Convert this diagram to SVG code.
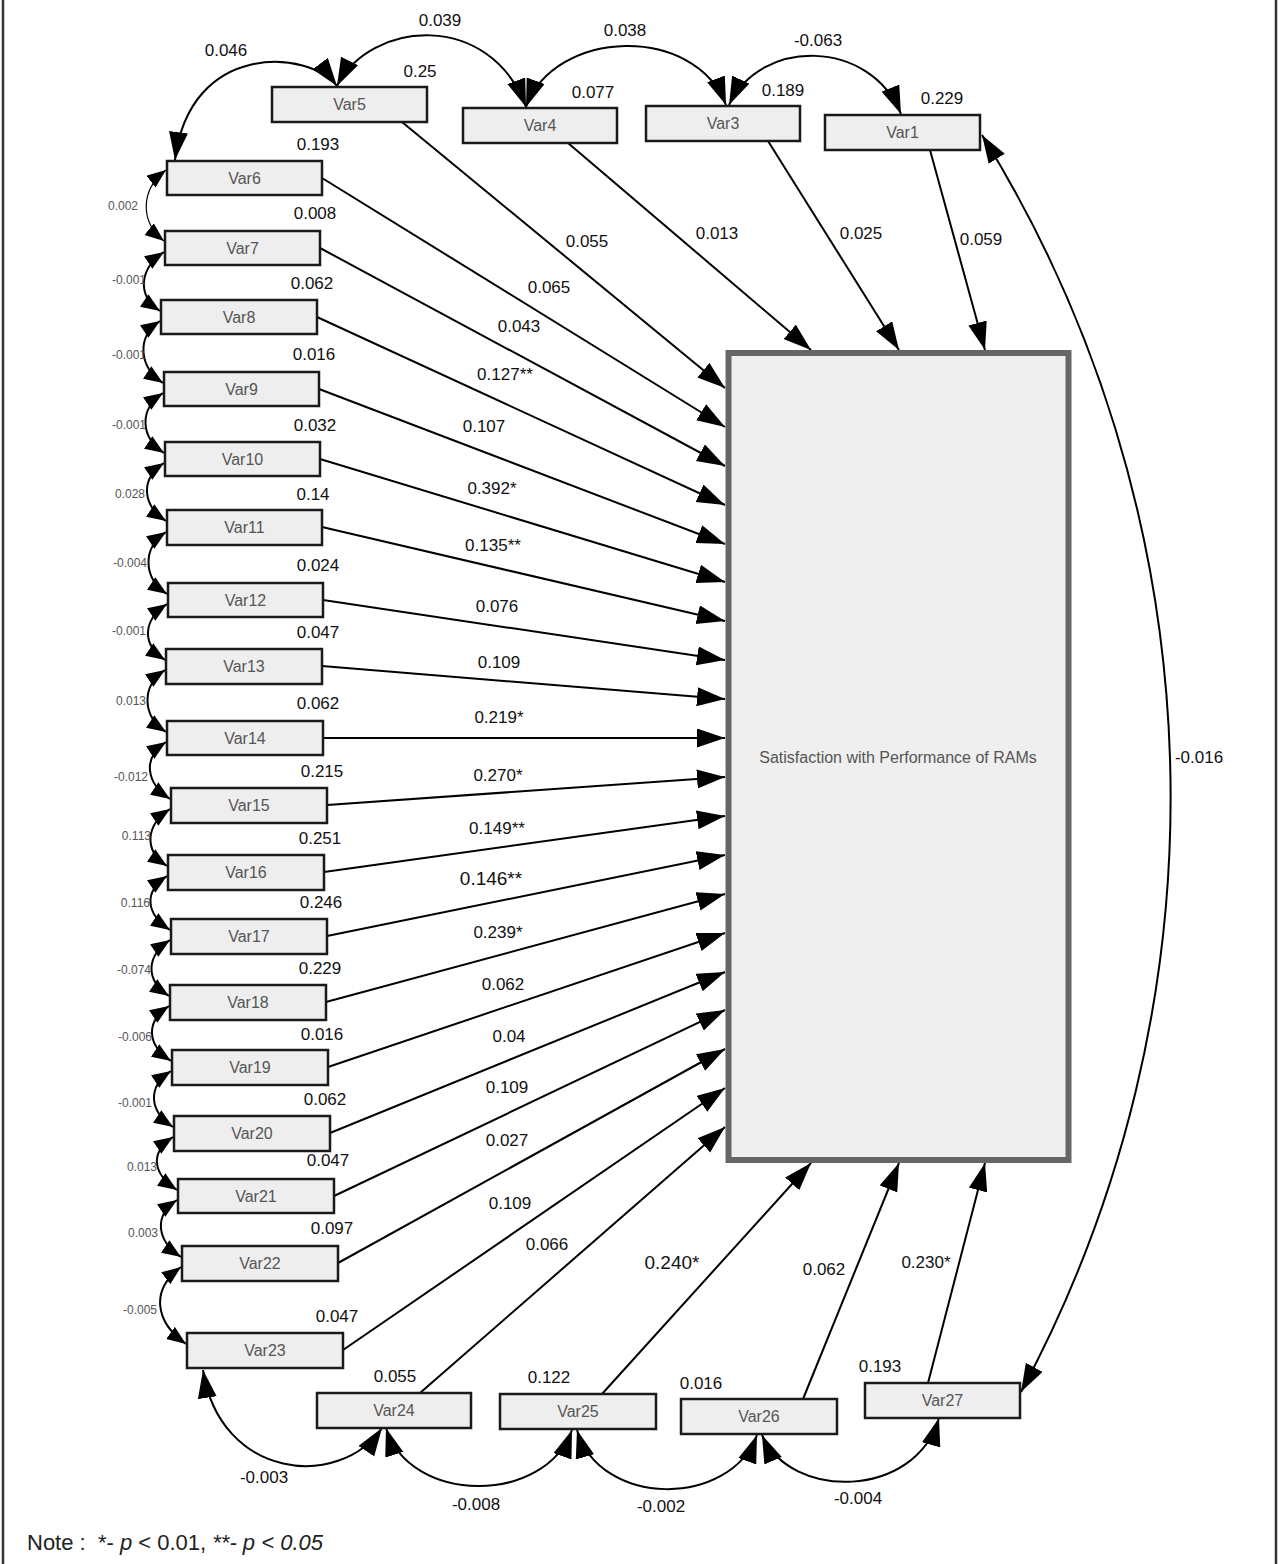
<svg xmlns="http://www.w3.org/2000/svg" width="1278" height="1564" viewBox="0 0 1278 1564">
<style>
.box{fill:#eeeeee;stroke:#1a1a1a;stroke-width:2.5}
.vl{font-family:"Liberation Sans",Arial,sans-serif;font-size:16px;fill:#555;text-anchor:middle;dominant-baseline:central}
.lb{font-family:"Liberation Sans",Arial,sans-serif;font-size:17px;fill:#111;text-anchor:middle;dominant-baseline:central}
.big{font-size:19px}
.sm{font-family:"Liberation Sans",Arial,sans-serif;font-size:12px;fill:#555;text-anchor:end;dominant-baseline:central}
.ln{stroke:#000;stroke-width:2;fill:none;marker-end:url(#ah)}
.cv{stroke:#000;stroke-width:2;fill:none;marker-start:url(#ah);marker-end:url(#ah)}
.ch{stroke:#000;stroke-width:2;fill:none;marker-start:url(#sh);marker-end:url(#sh)}
.note{font-family:"Liberation Sans",Arial,sans-serif;font-size:22px;fill:#222}
</style>
<defs>
<marker id="ah" markerUnits="userSpaceOnUse" markerWidth="30" markerHeight="22" refX="28" refY="9.5" orient="auto-start-reverse"><path d="M0,0 L28,9.5 L0,19 z" fill="#000"/></marker>
<marker id="sh" markerUnits="userSpaceOnUse" markerWidth="22" markerHeight="18" refX="19" refY="7.5" orient="auto-start-reverse"><path d="M0,0 L19,7.5 L0,15 z" fill="#000"/></marker>
</defs>
<rect width="1278" height="1564" fill="#fff"/>
<line x1="3" y1="0" x2="3" y2="1564" stroke="#333" stroke-width="2.5"/>
<line x1="1276" y1="0" x2="1276" y2="1564" stroke="#333" stroke-width="2.5"/>

<g id="connectors">
<path class="ln" d="M402,122 L725,388"/>
<path class="ln" d="M568,143 L811,350"/>
<path class="ln" d="M768,141 L899,350"/>
<path class="ln" d="M930,150 L985,350"/>
<path class="ln" d="M322,178 L725,427"/>
<path class="ln" d="M320,248 L725,466"/>
<path class="ln" d="M317,317 L725,505"/>
<path class="ln" d="M319,389 L725,544"/>
<path class="ln" d="M320,459 L725,582"/>
<path class="ln" d="M322,527 L725,621"/>
<path class="ln" d="M323,600 L725,660"/>
<path class="ln" d="M322,666 L725,699"/>
<path class="ln" d="M323,738 L725,738"/>
<path class="ln" d="M327,805 L725,777"/>
<path class="ln" d="M324,872 L725,816"/>
<path class="ln" d="M327,936 L725,855"/>
<path class="ln" d="M326,1002 L725,894"/>
<path class="ln" d="M328,1067 L725,933"/>
<path class="ln" d="M330,1133 L725,972"/>
<path class="ln" d="M334,1196 L725,1010"/>
<path class="ln" d="M338,1263 L725,1049"/>
<path class="ln" d="M343,1350 L725,1088"/>
<path class="ln" d="M420,1393 L725,1127"/>
<path class="ln" d="M602,1394 L811,1163"/>
<path class="ln" d="M803,1399 L899,1163"/>
<path class="ln" d="M928,1383 L985,1163"/>
<path class="cv" d="M337,86 C310,50 190,40 175,160"/>
<path class="cv" d="M337,86 C370,20 490,10 526,107"/>
<path class="cv" d="M526,107 C555,28 695,24 726,105"/>
<path class="cv" d="M729,105 C760,38 870,38 901,114"/>
<path class="cv" d="M982,135 A1257,1257 0 0 1 1021,1392"/>
<path class="cv" d="M203,1370 C220,1480 340,1490 382,1428"/>
<path class="cv" d="M386,1428 C410,1505 545,1505 572,1430"/>
<path class="cv" d="M577,1430 C600,1508 730,1508 757,1435"/>
<path class="cv" d="M762,1435 C790,1500 915,1500 939,1418"/>
<path class="ch" style="stroke-width:1.2" d="M166,170 C140,190 140,222 164,241"/>
<path class="ch" d="M164,252 C140,268 136,295 160,311"/>
<path class="ch" d="M160,321 C136,337 139,367 163,383"/>
<path class="ch" d="M163,393 C139,409 140,437 164,453"/>
<path class="ch" d="M164,463 C140,479 142,505 166,521"/>
<path class="ch" d="M166,532 C142,548 143,578 167,594"/>
<path class="ch" d="M167,604 C143,620 141,644 165,660"/>
<path class="ch" d="M165,670 C141,686 142,716 166,732"/>
<path class="ch" d="M166,742 C142,758 146,783 170,799"/>
<path class="ch" d="M170,809 C146,825 143,850 167,866"/>
<path class="ch" d="M167,876 C143,892 146,914 170,930"/>
<path class="ch" d="M170,940 C146,956 145,980 169,996"/>
<path class="ch" d="M169,1006 C145,1022 147,1045 171,1061"/>
<path class="ch" d="M171,1071 C147,1087 149,1111 173,1127"/>
<path class="ch" d="M173,1137 C149,1153 153,1174 177,1190"/>
<path class="ch" d="M177,1200 C153,1216 157,1241 181,1257"/>
<path class="ch" d="M181,1267 C150,1290 155,1322 186,1344"/>
</g>

<g id="labels">
<text class="lb" x="226" y="50">0.046</text>
<text class="lb" x="440" y="20">0.039</text>
<text class="lb" x="625" y="30">0.038</text>
<text class="lb" x="818" y="40">-0.063</text>
<text class="lb" x="1199" y="757">-0.016</text>
<text class="lb" x="264" y="1477">-0.003</text>
<text class="lb" x="476" y="1504">-0.008</text>
<text class="lb" x="661" y="1506">-0.002</text>
<text class="lb" x="858" y="1498">-0.004</text>
<text class="lb" x="587" y="241">0.055</text>
<text class="lb" x="717" y="233">0.013</text>
<text class="lb" x="861" y="233">0.025</text>
<text class="lb" x="981" y="239">0.059</text>
<text class="lb" x="549" y="287">0.065</text>
<text class="lb" x="519" y="326">0.043</text>
<text class="lb" x="505" y="374">0.127**</text>
<text class="lb" x="484" y="426">0.107</text>
<text class="lb" x="492" y="488">0.392*</text>
<text class="lb" x="493" y="545">0.135**</text>
<text class="lb" x="497" y="606">0.076</text>
<text class="lb" x="499" y="662">0.109</text>
<text class="lb" x="499" y="717">0.219*</text>
<text class="lb" x="498" y="775">0.270*</text>
<text class="lb" x="497" y="828">0.149**</text>
<text class="lb big" x="491" y="878">0.146**</text>
<text class="lb" x="498" y="932">0.239*</text>
<text class="lb" x="503" y="984">0.062</text>
<text class="lb" x="509" y="1036">0.04</text>
<text class="lb" x="507" y="1087">0.109</text>
<text class="lb" x="507" y="1140">0.027</text>
<text class="lb" x="510" y="1203">0.109</text>
<text class="lb" x="547" y="1244">0.066</text>
<text class="lb big" x="672" y="1262">0.240*</text>
<text class="lb" x="824" y="1269">0.062</text>
<text class="lb" x="926" y="1262">0.230*</text>
<text class="sm" x="138" y="206">0.002</text>
<text class="sm" x="146" y="280">-0.001</text>
<text class="sm" x="146" y="355">-0.001</text>
<text class="sm" x="146" y="425">-0.001</text>
<text class="sm" x="145" y="494">0.028</text>
<text class="sm" x="147" y="563">-0.004</text>
<text class="sm" x="146" y="631">-0.001</text>
<text class="sm" x="146" y="701">0.013</text>
<text class="sm" x="148" y="777">-0.012</text>
<text class="sm" x="151" y="836">0.113</text>
<text class="sm" x="150" y="903">0.116</text>
<text class="sm" x="151" y="970">-0.074</text>
<text class="sm" x="152" y="1037">-0.006</text>
<text class="sm" x="152" y="1103">-0.001</text>
<text class="sm" x="157" y="1167">0.013</text>
<text class="sm" x="158" y="1233">0.003</text>
<text class="sm" x="157" y="1310">-0.005</text>
</g>

<g id="outcome">
<rect x="728.5" y="353" width="340" height="807" fill="#efefef" stroke="#666" stroke-width="6"/>
<text class="vl" x="898" y="757">Satisfaction with Performance of RAMs</text>
</g>

<g id="var5"><rect class="box" x="272" y="87" width="155" height="35"/><text class="vl" x="349.5" y="104.5">Var5</text><text class="lb" x="420" y="71">0.25</text></g>
<g id="var4"><rect class="box" x="463" y="108" width="154" height="35"/><text class="vl" x="540" y="125.5">Var4</text><text class="lb" x="593" y="92">0.077</text></g>
<g id="var3"><rect class="box" x="646" y="106" width="154" height="35"/><text class="vl" x="723" y="123.5">Var3</text><text class="lb" x="783" y="90">0.189</text></g>
<g id="var1"><rect class="box" x="825" y="115" width="155" height="35"/><text class="vl" x="902.5" y="132.5">Var1</text><text class="lb" x="942" y="98">0.229</text></g>
<g id="var6"><rect class="box" x="167" y="161" width="155" height="34"/><text class="vl" x="244.5" y="178">Var6</text><text class="lb" x="318" y="144">0.193</text></g>
<g id="var7"><rect class="box" x="165" y="231" width="155" height="34"/><text class="vl" x="242.5" y="248">Var7</text><text class="lb" x="315" y="213">0.008</text></g>
<g id="var8"><rect class="box" x="161" y="300" width="156" height="34"/><text class="vl" x="239" y="317">Var8</text><text class="lb" x="312" y="283">0.062</text></g>
<g id="var9"><rect class="box" x="164" y="372" width="155" height="34"/><text class="vl" x="241.5" y="389">Var9</text><text class="lb" x="314" y="354">0.016</text></g>
<g id="var10"><rect class="box" x="165" y="442" width="155" height="34"/><text class="vl" x="242.5" y="459">Var10</text><text class="lb" x="315" y="425">0.032</text></g>
<g id="var11"><rect class="box" x="167" y="510" width="155" height="35"/><text class="vl" x="244.5" y="527.5">Var11</text><text class="lb" x="313" y="494">0.14</text></g>
<g id="var12"><rect class="box" x="168" y="583" width="155" height="34"/><text class="vl" x="245.5" y="600">Var12</text><text class="lb" x="318" y="565">0.024</text></g>
<g id="var13"><rect class="box" x="166" y="649" width="156" height="35"/><text class="vl" x="244" y="666.5">Var13</text><text class="lb" x="318" y="632">0.047</text></g>
<g id="var14"><rect class="box" x="167" y="721" width="156" height="34"/><text class="vl" x="245" y="738">Var14</text><text class="lb" x="318" y="703">0.062</text></g>
<g id="var15"><rect class="box" x="171" y="788" width="156" height="35"/><text class="vl" x="249" y="805.5">Var15</text><text class="lb" x="322" y="771">0.215</text></g>
<g id="var16"><rect class="box" x="168" y="855" width="156" height="35"/><text class="vl" x="246" y="872.5">Var16</text><text class="lb" x="320" y="838">0.251</text></g>
<g id="var17"><rect class="box" x="171" y="919" width="156" height="35"/><text class="vl" x="249" y="936.5">Var17</text><text class="lb" x="321" y="902">0.246</text></g>
<g id="var18"><rect class="box" x="170" y="985" width="156" height="35"/><text class="vl" x="248" y="1002.5">Var18</text><text class="lb" x="320" y="968">0.229</text></g>
<g id="var19"><rect class="box" x="172" y="1050" width="156" height="35"/><text class="vl" x="250" y="1067.5">Var19</text><text class="lb" x="322" y="1034">0.016</text></g>
<g id="var20"><rect class="box" x="174" y="1116" width="156" height="35"/><text class="vl" x="252" y="1133.5">Var20</text><text class="lb" x="325" y="1099">0.062</text></g>
<g id="var21"><rect class="box" x="178" y="1179" width="156" height="34"/><text class="vl" x="256" y="1196">Var21</text><text class="lb" x="328" y="1160">0.047</text></g>
<g id="var22"><rect class="box" x="182" y="1246" width="156" height="35"/><text class="vl" x="260" y="1263.5">Var22</text><text class="lb" x="332" y="1228">0.097</text></g>
<g id="var23"><rect class="box" x="187" y="1333" width="156" height="35"/><text class="vl" x="265" y="1350.5">Var23</text><text class="lb" x="337" y="1316">0.047</text></g>
<g id="var24"><rect class="box" x="317" y="1393" width="154" height="35"/><text class="vl" x="394" y="1410.5">Var24</text><text class="lb" x="395" y="1376">0.055</text></g>
<g id="var25"><rect class="box" x="500" y="1394" width="156" height="35"/><text class="vl" x="578" y="1411.5">Var25</text><text class="lb" x="549" y="1377">0.122</text></g>
<g id="var26"><rect class="box" x="681" y="1399" width="156" height="35"/><text class="vl" x="759" y="1416.5">Var26</text><text class="lb" x="701" y="1383">0.016</text></g>
<g id="var27"><rect class="box" x="865" y="1383" width="155" height="35"/><text class="vl" x="942.5" y="1400.5">Var27</text><text class="lb" x="880" y="1366">0.193</text></g>

<text class="note" x="27" y="1550" xml:space="preserve">Note :  *- <tspan font-style="italic">p</tspan> &lt; 0.01, <tspan font-style="italic">**- p &lt; 0.05</tspan></text>
</svg>
